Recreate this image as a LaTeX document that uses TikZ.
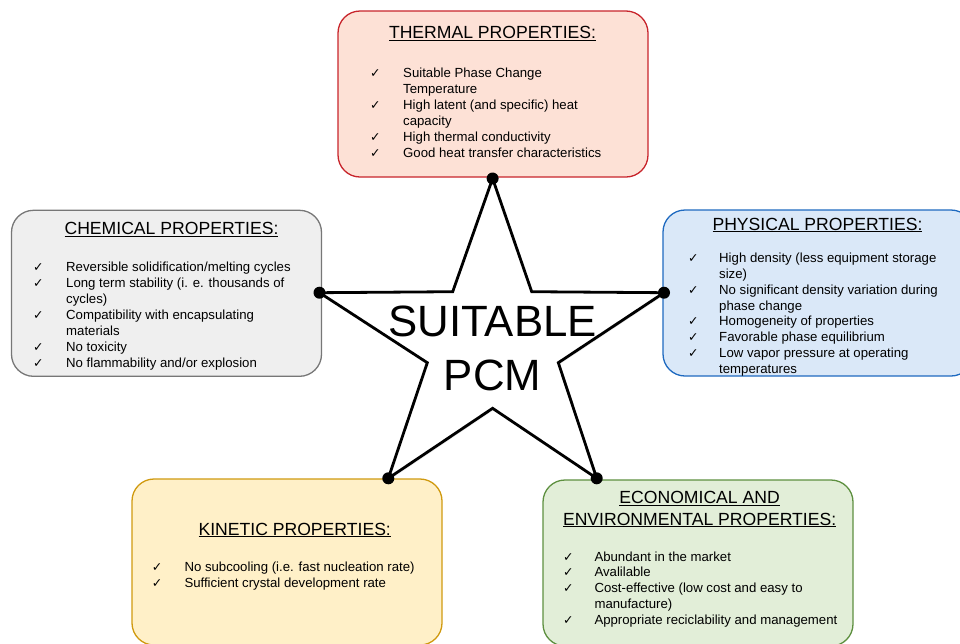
\documentclass[tikz,border=0pt]{standalone}
\usepackage{fontspec}
\setmainfont{Liberation Sans}
\newfontfamily\chkfont{DejaVu Sans}
\usetikzlibrary{shadows}
\definecolor{redfill}{HTML}{FDE1D6}\definecolor{redline}{HTML}{C8252C}
\definecolor{grayfill}{HTML}{EFEFEF}\definecolor{grayline}{HTML}{777777}
\definecolor{bluefill}{HTML}{DAE8F8}\definecolor{blueline}{HTML}{1F6AC0}
\definecolor{yelfill}{HTML}{FFF0C8}\definecolor{yelline}{HTML}{D09A10}
\definecolor{grnfill}{HTML}{E2EED8}\definecolor{grnline}{HTML}{5E9040}
\newcommand\ck{{\chkfont\fontsize{12.5}{12.5}\selectfont ✓}}
\newcommand\itemlist[2]{\fontsize{13.2}{15.9}\selectfont\begin{tabular}[t]{@{}p{#1pt}@{}l@{}}#2\end{tabular}}
\tikzset{
  propbox/.style 2 args={draw=#1, fill=#2, line width=1.3pt, rounded corners=22pt,
    minimum width=310pt, minimum height=166pt, inner sep=0pt},
  boxtitle/.style={anchor=base, inner sep=0pt, font=\fontsize{17.6}{21.7}\selectfont},
  boxlist/.style={anchor=base west, inner sep=0pt},
  tipdot/.style={circle, fill=black, inner sep=0pt, minimum size=12pt},
  starline/.style={draw=black, fill=white, line width=2.8pt, line join=miter,
    drop shadow={opacity=0.18, shadow xshift=1.5pt, shadow yshift=-1.5pt}}
}
\begin{document}
\begin{tikzpicture}[x=1pt, y=-1pt]
\useasboundingbox (0,0) rectangle (960,643);
\clip (0,0) rectangle (960,643);
% boxes
\node[propbox={redline}{redfill}]  (thermal)  at (493,94) {};
\node[propbox={grayline}{grayfill}] (chemical) at (166.5,293.3) {};
\node[propbox={blueline}{bluefill}] (physical) at (818,293) {};
\node[propbox={yelline}{yelfill}]  (kinetic)  at (287,562) {};
\node[propbox={grnline}{grnfill}]  (econ)     at (698,563) {};
% titles
\node[boxtitle] (tt) at (492.5,38.3) {\underline{THERMAL PROPERTIES:}};
\node[boxtitle] (ct) at (171.5,234.3) {\underline{CHEMICAL PROPERTIES:}};
\node[boxtitle] (pt) at (817.5,230) {\underline{PHYSICAL PROPERTIES:}};
\node[boxtitle] (kt) at (294.7,535) {\underline{KINETIC PROPERTIES:}};
\node[boxtitle] (et) at (699.6,503.3) {\begin{tabular}[t]{@{}c@{}}\underline{ECONOMICAL AND}\\\underline{ENVIRONMENTAL PROPERTIES:}\end{tabular}};
% lists
\node[boxlist] (tl) at (370,77.5) {\itemlist{33}{%
\ck & Suitable Phase Change\\
 & Temperature\\
\ck & High latent (and specific) heat\\
 & capacity\\
\ck & High thermal conductivity\\
\ck & Good heat transfer characteristics}};
\node[boxlist] (cl) at (33,271.7) {\itemlist{33}{%
\ck & Reversible solidification/melting cycles\\
\ck & Long term stability (i. e. thousands of\\
 & cycles)\\
\ck & Compatibility with encapsulating\\
 & materials\\
\ck & No toxicity\\
\ck & No flammability and/or explosion}};
\node[boxlist] (pl) at (688,262.3) {\itemlist{31}{%
\ck & High density (less equipment storage\\
 & size)\\
\ck & No significant density variation during\\
 & phase change\\
\ck & Homogeneity of properties\\
\ck & Favorable phase equilibrium\\
\ck & Low vapor pressure at operating\\
 & temperatures}};
\node[boxlist] (kl) at (151.7,571.7) {\itemlist{32.6}{%
\ck & No subcooling (i.e. fast nucleation rate)\\
\ck & Sufficient crystal development rate}};
\node[boxlist] (el) at (563,561) {\itemlist{31.3}{%
\ck & Abundant in the market\\
\ck & Avalilable\\
\ck & Cost-effective (low cost and easy to\\
 & manufacture)\\
\ck & Appropriate reciclability and management}};
% star
\coordinate (sT)  at (492.6,178.5);
\coordinate (sUL) at (452.7,291.7);
\coordinate (sL)  at (319.5,292.7);
\coordinate (sLI) at (427.3,362.7);
\coordinate (sBL) at (388.3,478.3);
\coordinate (sB)  at (492.6,408.3);
\coordinate (sBR) at (596.7,478.3);
\coordinate (sRI) at (558.3,362.7);
\coordinate (sR)  at (664,292.7);
\coordinate (sUR) at (531.7,291.7);
\path[starline] (sT) -- (sUR) -- (sR) -- (sRI) -- (sBR) -- (sB) -- (sBL) -- (sLI) -- (sL) -- (sUL) -- cycle;
\node[anchor=base, inner sep=0pt, font=\fontsize{43.8}{53.3}\selectfont] (pcm) at (492.6,336.7)
  {\begin{tabular}[t]{@{}c@{}}SUITABLE\\PCM\end{tabular}};
\node[tipdot] (dT)  at (sT) {};
\node[tipdot] (dL)  at (sL) {};
\node[tipdot] (dR)  at (sR) {};
\node[tipdot] (dBL) at (sBL) {};
\node[tipdot] (dBR) at (sBR) {};
\end{tikzpicture}
\end{document}
